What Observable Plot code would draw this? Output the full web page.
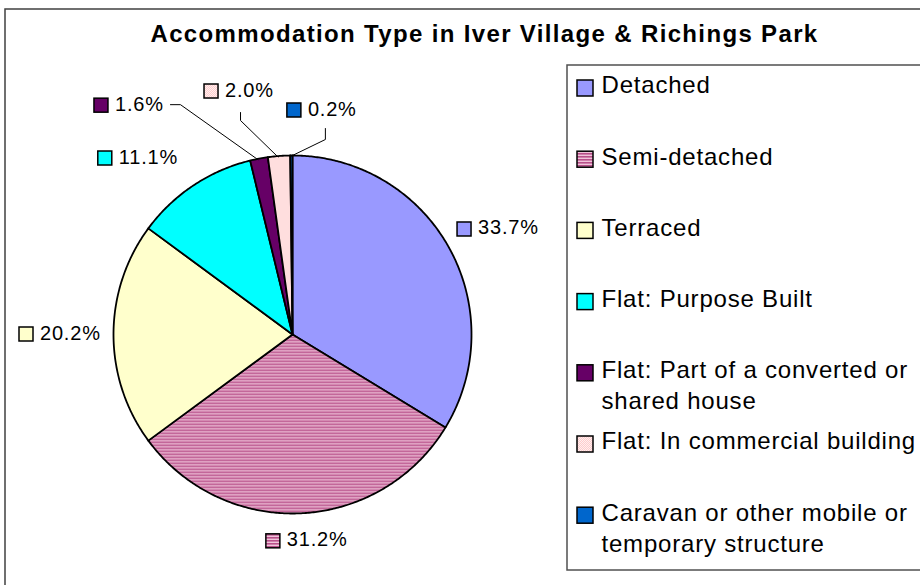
<!DOCTYPE html>
<html><head><meta charset="utf-8">
<script src="https://cdn.jsdelivr.net/npm/d3@7"></script>
<script src="https://cdn.jsdelivr.net/npm/@observablehq/plot@0.6"></script>
<style>
body{margin:0;background:#fff;}
svg{display:block;}
g[font-weight="bold"] text{letter-spacing:1.35px}
g[font-size="24"]:not([font-weight]) text{letter-spacing:0.8px}
g[font-size="20"] text{letter-spacing:0.8px}
</style></head><body><div id="chart"></div>
<script>
// ---- data ----
const title = "Accommodation Type in Iver Village & Richings Park";
const categories = ["Detached","Semi-detached","Terraced","Flat: Purpose Built","Flat: Part of a converted or shared house","Flat: In commercial building","Caravan or other mobile or temporary structure"];
const legendLabels = ["Detached","Semi-detached","Terraced","Flat: Purpose Built","Flat: Part of a converted or\nshared house","Flat: In commercial building","Caravan or other mobile or\ntemporary structure"];
const percentages = [33.7, 31.2, 20.2, 11.1, 1.6, 2.0, 0.2];
const valueLabels = ["33.7%","31.2%","20.2%","11.1%","1.6%","2.0%","0.2%"];

// ---- style / layout ----
const colors = ["#9999ff","url(#semiPat)","#ffffcc","#00ffff","#660066","url(#commPat)","#0066cc"];
const labelOffsets = [[9,-12.3],[-34,33],[-94,5],[-95,-22],[-164.5,-48],[-74.5,-59.5],[-4,-40]];
const leaderOffsets = [null,null,null,null,[[76,-6],[86,-6]],[[36,16],[36,24]],[[38,13],[38,24]]];
const W = 920, H = 585, cx = 292, cy = 334, R = 179;
const font = "Liberation Sans, Arial, sans-serif";
const legFs = 24, legLh = 31 / 24, labFs = 20;

// ---- pie geometry ----
const total = d3.sum(percentages);
let acc = 0;
const slices = percentages.map((v, i) => {
  const a0 = acc / total * 2 * Math.PI; acc += v;
  const a1 = acc / total * 2 * Math.PI;
  return {i, cat: categories[i], a0, a1, mid: (a0 + a1) / 2};
});
const polyPts = [];
slices.forEach(s => {
  polyPts.push({cat: s.cat, x: cx, y: cy});
  const n = Math.max(2, Math.ceil((s.a1 - s.a0) / (Math.PI / 360)));
  for (let k = 0; k <= n; k++) {
    const a = s.a0 + (s.a1 - s.a0) * k / n;
    polyPts.push({cat: s.cat, x: cx + R * Math.sin(a), y: cy - R * Math.cos(a)});
  }
  polyPts.push({cat: s.cat, x: cx, y: cy});
});
const labels = slices.map(s => {
  const ex = cx + R * Math.sin(s.mid), ey = cy - R * Math.cos(s.mid);
  const [dx, dy] = labelOffsets[s.i];
  return {cat: s.cat, text: valueLabels[s.i], ex, ey, lx: ex + dx, ly: ey + dy, i: s.i};
});
const leaderPts = [];
labels.forEach(l => {
  const lo = leaderOffsets[l.i];
  if (!lo) return;
  leaderPts.push({k: l.i, x: l.lx + lo[0][0], y: l.ly + lo[0][1]});
  leaderPts.push({k: l.i, x: l.lx + lo[1][0], y: l.ly + lo[1][1]});
  leaderPts.push({k: l.i, x: l.ex - 1, y: l.ey + 1});
});
const legendBase = i => 93 + i * 71.2;

const svg = Plot.plot({
  width: W, height: H,
  margin: 0,
  style: {fontFamily: font, background: "white", overflow: "hidden"},
  x: {type: "linear", domain: [0, W], range: [0, W], axis: null},
  y: {type: "linear", domain: [0, H], range: [0, H], axis: null},
  color: {type: "ordinal", domain: categories, range: colors},
  marks: [
    Plot.rect([0], {x1: 5, x2: 930, y1: 9, y2: 600, fill: "none", stroke: "#404040", strokeWidth: 1.5}),
    Plot.text([title], {x: 484, y: 34.3, text: d => d, fontWeight: "bold", fontSize: 24, fontFamily: font, fill: "black"}),
    Plot.line(polyPts, {x: "x", y: "y", z: "cat", fill: "cat", stroke: "black", strokeWidth: 1.8, strokeLinejoin: "round"}),
    Plot.line(leaderPts, {x: "x", y: "y", z: "k", stroke: "black", strokeWidth: 1}),
    Plot.rect(labels, {x1: d => d.lx, x2: d => d.lx + 14, y1: d => d.ly - 12, y2: d => d.ly + 2, fill: "cat", stroke: "black", strokeWidth: 1.5}),
    Plot.text(labels, {x: d => d.lx + 20.5, y: d => d.ly - 0.71 * labFs, text: "text", textAnchor: "start", lineAnchor: "top", fontSize: labFs, fontFamily: font, fill: "black"}),
    Plot.rect([0], {x1: 567, x2: 930, y1: 65, y2: 570, fill: "none", stroke: "#505050", strokeWidth: 1.5}),
    Plot.rect(categories, {x1: 577, x2: 593, y1: (d, i) => legendBase(i) - 13, y2: (d, i) => legendBase(i) + 3, fill: d => d, stroke: "black", strokeWidth: 1.5}),
    Plot.text(categories, {x: 601, y: (d, i) => legendBase(i) - 0.71 * legLh * legFs, text: (d, i) => legendLabels[i], textAnchor: "start", lineAnchor: "top", lineHeight: legLh, fontSize: legFs, fontFamily: font, fill: "black"})
  ]
});

// patterns used by the fill colours
const defs = d3.select(svg).insert("defs", ":first-child");
const p1 = defs.append("pattern").attr("id", "semiPat").attr("patternUnits", "userSpaceOnUse").attr("width", 4).attr("height", 3);
p1.append("rect").attr("width", 4).attr("height", 3).attr("fill", "#f0c4da");
p1.append("rect").attr("width", 4).attr("height", 1.6).attr("fill", "#b8508a");
const p2 = defs.append("pattern").attr("id", "commPat").attr("patternUnits", "userSpaceOnUse").attr("width", 2).attr("height", 2);
p2.append("rect").attr("width", 2).attr("height", 2).attr("fill", "#ffcccc");
p2.append("rect").attr("width", 1).attr("height", 1).attr("fill", "#fff0f0");
p2.append("rect").attr("x", 1).attr("y", 1).attr("width", 1).attr("height", 1).attr("fill", "#fff0f0");

document.getElementById("chart").appendChild(svg);
</script>
</body></html>
